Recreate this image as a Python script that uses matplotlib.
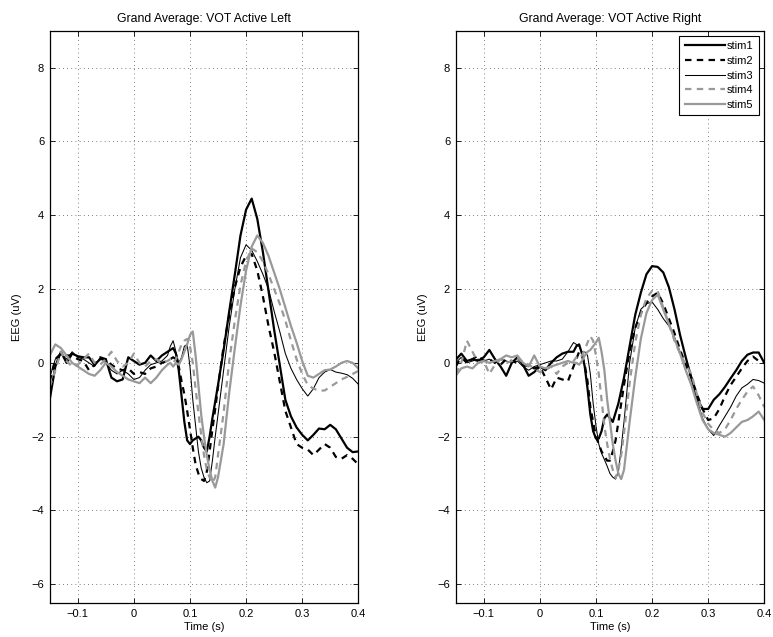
import numpy as np
import matplotlib
matplotlib.use("Agg")
import matplotlib.pyplot as plt

plt.rcParams['font.family'] = ['Liberation Sans', 'DejaVu Sans']

# time axis (s)
time = np.round(np.concatenate([np.arange(-0.15, 0.0601, 0.01),
                                np.arange(0.065, 0.1501, 0.005),
                                np.arange(0.16, 0.4001, 0.01)]), 3)

labels = ['stim1', 'stim2', 'stim3', 'stim4', 'stim5']
titles = ['Grand Average: VOT Active Left', 'Grand Average: VOT Active Right']
xtick_vals = [-0.1, 0, 0.1, 0.2, 0.3, 0.4]
xtick_labels = ['\u22120.1', '0', '0.1', '0.2', '0.3', '0.4']
ytick_vals = [-6, -4, -2, 0, 2, 4, 6, 8]

# ---- Left hemisphere ----
left_stim1 = [-1.0, -0.1, 0.3, 0.0, 0.25, 0.18, 0.15, 0.15, -0.05, 0.1, 0.1, -0.4, -0.5, -0.45, 0.15, 0.05, -0.05, 0.0, 0.2, 0.05, 0.2, 0.3,
              0.35, 0.4, 0.25, -0.2, -0.9, -1.6, -2.1, -2.2, -2.1, -2.05, -2.0, -2.1, -2.3, -2.4, -2.0, -1.5, -1.05, -0.6,
              0.35, 1.4, 2.4, 3.45, 4.15, 4.45, 3.9, 3.0, 1.95, 0.9, -0.05, -1.0, -1.45, -1.75, -1.95, -2.1, -1.95, -1.78, -1.8, -1.68, -1.8, -2.05, -2.3, -2.42, -2.4]
left_stim2 = [-0.5, 0.1, 0.25, 0.2, 0.2, 0.1, 0.05, -0.2, -0.05, 0.15, 0.1, -0.05, -0.15, -0.2, -0.15, -0.3, -0.25, -0.3, -0.15, -0.1, 0.0, 0.05,
              0.1, 0.15, 0.1, -0.1, -0.5, -0.85, -1.3, -1.8, -2.3, -2.75, -3.0, -3.15, -3.2, -2.95, -2.4, -1.8, -1.25, -0.65,
              0.45, 1.3, 2.05, 2.6, 2.9, 2.95, 2.5, 1.8, 1.0, 0.3, -0.5, -1.3, -1.75, -2.2, -2.3, -2.35, -2.5, -2.35, -2.2, -2.3, -2.55, -2.6, -2.5, -2.6, -2.75]
left_stim3 = [-0.4, 0.1, 0.25, 0.1, 0.3, 0.15, 0.1, 0.0, -0.1, 0.15, 0.0, -0.2, -0.3, -0.2, -0.3, -0.45, -0.4, -0.2, -0.05, 0.0, 0.05, 0.2,
              0.45, 0.6, 0.3, 0.0, 0.15, 0.45, 0.5, -0.1, -1.0, -1.7, -2.4, -2.85, -3.1, -3.25, -3.2, -2.65, -2.0, -1.4,
              -0.2, 1.0, 2.0, 2.85, 3.2, 3.05, 2.75, 2.4, 2.0, 1.4, 0.85, 0.25, -0.15, -0.45, -0.7, -0.9, -0.7, -0.4, -0.25, -0.18, -0.25, -0.28, -0.32, -0.42, -0.58]
left_stim4 = [-0.65, -0.2, 0.3, 0.05, -0.1, -0.05, 0.1, 0.25, 0.0, -0.05, 0.1, 0.3, 0.05, -0.1, 0.0, 0.25, 0.0, -0.1, 0.05, 0.1, 0.0, 0.05,
              0.1, 0.0, 0.1, 0.3, 0.5, 0.6, 0.65, 0.45, 0.0, -0.7, -1.35, -1.95, -2.5, -2.9, -3.1, -3.25, -3.1, -2.5,
              -1.35, 0.05, 1.15, 2.1, 2.75, 3.1, 3.0, 2.75, 2.4, 2.0, 1.6, 1.15, 0.6, 0.1, -0.3, -0.6, -0.7, -0.75, -0.75, -0.65, -0.55, -0.45, -0.38, -0.3, -0.22]
left_stim5 = [0.2, 0.5, 0.4, 0.2, 0.0, -0.1, -0.2, -0.3, -0.35, -0.2, 0.0, -0.1, -0.25, -0.35, -0.45, -0.5, -0.55, -0.4, -0.55, -0.4, -0.2, -0.05,
              0.0, -0.1, 0.0, -0.05, 0.1, 0.3, 0.5, 0.75, 0.85, 0.2, -0.6, -1.4, -2.0, -2.5, -2.9, -3.2, -3.38, -3.1,
              -2.2, -0.8, 0.4, 1.55, 2.5, 3.15, 3.45, 3.25, 2.9, 2.45, 2.0, 1.5, 1.0, 0.55, 0.05, -0.35, -0.4, -0.3, -0.2, -0.18, -0.1, 0.0, 0.05, 0.0, -0.15]

# ---- Right hemisphere ----
right_stim1 = [0.08, 0.25, 0.05, 0.1, 0.05, 0.15, 0.35, 0.1, -0.1, -0.35, 0.0, 0.15, -0.05, -0.35, -0.25, -0.1, -0.2, 0.0, 0.15, 0.25, 0.3, 0.3,
               0.45, 0.5, 0.25, -0.1, -0.7, -1.4, -1.85, -2.05, -2.05, -1.85, -1.5, -1.4, -1.5, -1.6, -1.35, -1.1, -0.75, -0.4,
               0.45, 1.3, 1.9, 2.4, 2.62, 2.6, 2.45, 2.05, 1.45, 0.75, 0.15, -0.4, -0.95, -1.25, -1.25, -1.0, -0.85, -0.65, -0.42, -0.2, 0.05, 0.22, 0.28, 0.28, 0.0]
right_stim2 = [-0.1, 0.15, 0.0, 0.1, 0.2, 0.05, 0.1, 0.0, -0.05, 0.1, 0.05, 0.0, -0.05, -0.1, -0.15, -0.1, -0.4, -0.72, -0.4, -0.45, -0.5, -0.1,
               0.1, 0.3, 0.2, -0.05, -0.5, -1.2, -1.6, -2.0, -2.2, -2.4, -2.53, -2.65, -2.65, -2.4, -2.1, -1.6, -1.1, -0.6,
               0.3, 0.95, 1.35, 1.62, 1.8, 1.9, 1.6, 1.2, 0.8, 0.35, -0.05, -0.4, -0.85, -1.25, -1.55, -1.5, -1.25, -0.9, -0.6, -0.38, -0.15, 0.05, 0.17, 0.05, 0.0]
right_stim3 = [0.0, 0.15, 0.0, 0.05, 0.1, 0.05, 0.1, 0.0, 0.1, 0.05, 0.0, 0.05, -0.1, -0.2, -0.1, -0.05, 0.0, 0.05, 0.05, 0.1, 0.3, 0.55,
               0.5, 0.45, 0.3, 0.3, 0.2, -0.3, -1.1, -1.7, -2.2, -2.45, -2.62, -2.8, -3.0, -3.1, -3.15, -2.95, -2.3, -1.6,
               0.0, 0.95, 1.45, 1.6, 1.65, 1.45, 1.2, 1.0, 0.7, 0.3, -0.2, -0.6, -1.0, -1.5, -1.8, -1.97, -1.7, -1.45, -1.2, -0.9, -0.68, -0.58, -0.45, -0.48, -0.55]
right_stim4 = [-0.3, 0.0, 0.6, 0.3, 0.0, 0.05, -0.3, -0.05, 0.1, 0.0, 0.05, 0.15, 0.0, -0.05, -0.15, -0.25, -0.2, -0.1, -0.3, -0.1, 0.0, 0.05,
               0.15, 0.1, 0.2, 0.35, 0.55, 0.72, 0.6, 0.2, -0.3, -1.0, -1.7, -2.2, -2.6, -2.9, -3.12, -2.9, -2.5, -1.9,
               -0.55, 0.55, 1.3, 1.75, 1.95, 1.95, 1.5, 1.05, 0.6, 0.25, -0.05, -0.3, -0.85, -1.35, -1.65, -1.82, -1.9, -1.8, -1.55, -1.25, -1.0, -0.78, -0.64, -0.88, -1.2]
right_stim5 = [-0.35, -0.15, -0.1, -0.15, 0.0, 0.05, 0.0, 0.05, 0.1, 0.2, 0.15, 0.2, 0.0, -0.1, 0.2, -0.1, -0.15, -0.1, -0.05, 0.0, 0.05, 0.0,
               0.0, -0.05, 0.05, 0.2, 0.3, 0.35, 0.45, 0.55, 0.68, 0.3, -0.2, -1.0, -1.6, -2.2, -2.65, -3.0, -3.15, -2.9,
               -1.6, -0.4, 0.65, 1.35, 1.7, 1.85, 1.45, 1.05, 0.65, 0.25, -0.2, -0.6, -1.1, -1.55, -1.8, -1.9, -1.95, -2.0, -1.9, -1.75, -1.6, -1.55, -1.45, -1.32, -1.55]

left_series = [left_stim1, left_stim2, left_stim3, left_stim4, left_stim5]
right_series = [right_stim1, right_stim2, right_stim3, right_stim4, right_stim5]

gray = '#999999'
dash = (0, (2.9, 2.4))
styles = [dict(color='black', lw=1.6, ls='-'),
          dict(color='black', lw=1.6, ls=dash),
          dict(color='black', lw=0.75, ls='-'),
          dict(color=gray, lw=1.6, ls=dash),
          dict(color=gray, lw=1.6, ls='-')]

fs = 8.0
fs_title = 8.8
fig = plt.figure(figsize=(7.73, 6.37), dpi=100)
positions = [[0.0643, 0.0538, 0.3992, 0.898], [0.5895, 0.0538, 0.3992, 0.898]]

for k, (pos, series, title) in enumerate(zip(positions, [left_series, right_series], titles)):
    ax = fig.add_axes(pos)
    for y, st, lab in zip(series, styles, labels):
        ax.plot(time, y, label=lab, **st)
    ax.set_xlim(-0.15, 0.4)
    ax.set_ylim(-6.5, 9)
    ax.set_xticks(xtick_vals)
    ax.set_xticklabels(xtick_labels)
    ax.set_yticks(ytick_vals)
    ax.tick_params(direction='in', length=3.5, width=0.6, top=True, right=True,
                   labelsize=fs, colors='black')
    ax.tick_params(axis='x', pad=4.5)
    ax.tick_params(axis='y', pad=4)
    ax.grid(True, color='#555555', linestyle=(0, (1.0, 4.0)), linewidth=0.6)
    for sp in ax.spines.values():
        sp.set_linewidth(0.9)
    ax.set_title(title, fontsize=fs_title, pad=6)
    ax.set_xlabel('Time (s)', fontsize=fs, labelpad=2)
    ax.set_ylabel('EEG (uV)', fontsize=fs, labelpad=7)
    if k == 1:
        leg = ax.legend(loc='upper right', fontsize=fs, handlelength=3.6,
                        handletextpad=0.2, labelspacing=0.42, borderpad=0.5,
                        borderaxespad=0.45, fancybox=False, framealpha=1,
                        edgecolor='black')
        leg.get_frame().set_linewidth(0.8)

fig.savefig('out.png', dpi=100)
